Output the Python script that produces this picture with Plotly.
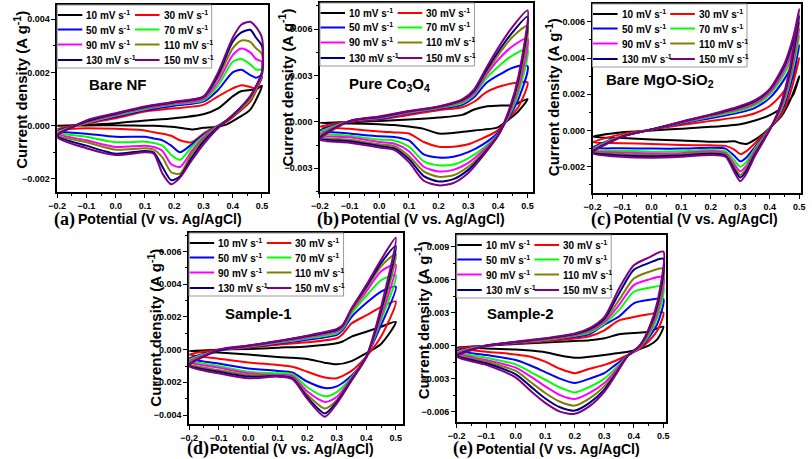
import plotly.graph_objects as go

W, H = 812, 459

RATES = ["10", "30", "50", "70", "90", "110", "130", "150"]
COLORS = ["#000000", "#ff0000", "#0000ff", "#00ff00", "#ff00ff", "#808000", "#000080", "#800080"]

# Current densities are listed in units of 1e-3 A g^-1 (converted to A g^-1 when plotted)
# ---- (a) Bare NF ----
a_up_x = [-0.2, -0.1, 0.0, 0.1, 0.2, 0.3, 0.35, 0.4, 0.43, 0.46, 0.48, 0.5]
a_up = [
    [0.0, 0.03, 0.09, 0.19, 0.28, 0.43, 0.65, 1.1, 1.3, 1.34, 1.36, 1.5],
    [-0.12, 0.08, 0.28, 0.53, 0.65, 0.78, 1.1, 1.4, 1.52, 1.45, 1.4, 1.8],
    [-0.2, 0.1, 0.33, 0.58, 0.75, 0.9, 1.34, 2.0, 2.1, 1.9, 1.8, 1.9],
    [-0.25, 0.1, 0.38, 0.62, 0.8, 0.95, 1.5, 2.4, 2.5, 2.3, 2.1, 2.1],
    [-0.3, 0.12, 0.4, 0.65, 0.83, 1.0, 1.65, 2.65, 2.9, 2.75, 2.5, 2.4],
    [-0.35, 0.14, 0.43, 0.68, 0.86, 1.05, 1.8, 2.9, 3.2, 3.15, 2.9, 2.7],
    [-0.38, 0.16, 0.45, 0.7, 0.88, 1.08, 1.9, 3.15, 3.5, 3.6, 3.3, 3.0],
    [-0.42, 0.2, 0.47, 0.72, 0.9, 1.1, 2.0, 3.3, 3.8, 3.9, 3.7, 3.3],
]
a_dn_x = [0.5, 0.46, 0.42, 0.38, 0.34, 0.3, 0.26, 0.22, 0.19, 0.16, 0.13, 0.1, 0.0, -0.1, -0.2]
a_dn = [
    [1.5, 0.6, 0.3, 0.05, -0.05, -0.08, -0.14, -0.08, -0.04, -0.02, 0.0, 0.0, 0.02, 0.01, 0.0],
    [1.8, 0.9, 0.5, 0.15, -0.05, -0.3, -0.62, -0.55, -0.38, -0.3, -0.25, -0.18, -0.12, -0.1, -0.12],
    [1.85, 1.0, 0.55, 0.2, -0.06, -0.35, -0.7, -1.0, -0.75, -0.55, -0.48, -0.42, -0.42, -0.3, -0.2],
    [1.9, 1.0, 0.55, 0.2, -0.08, -0.4, -0.8, -1.28, -1.1, -0.75, -0.65, -0.6, -0.62, -0.42, -0.25],
    [1.9, 1.05, 0.6, 0.2, -0.1, -0.45, -0.95, -1.55, -1.45, -0.95, -0.8, -0.75, -0.8, -0.55, -0.3],
    [1.95, 1.05, 0.6, 0.2, -0.12, -0.52, -1.05, -1.8, -1.75, -1.2, -0.9, -0.85, -0.9, -0.62, -0.35],
    [2.0, 1.1, 0.6, 0.2, -0.15, -0.6, -1.2, -1.9, -2.05, -1.55, -1.0, -0.95, -1.05, -0.75, -0.38],
    [2.0, 1.1, 0.6, 0.2, -0.2, -0.7, -1.3, -1.95, -2.2, -1.8, -1.05, -1.0, -1.1, -0.85, -0.42],
]

# ---- (b) Pure Co3O4 ----
b_up_x = [-0.2, -0.1, 0.0, 0.1, 0.2, 0.28, 0.32, 0.36, 0.4, 0.45, 0.5]
b_up = [
    [-0.06, 0.0, 0.06, 0.15, 0.28, 0.45, 0.8, 1.0, 1.05, 1.08, 1.47],
    [-0.3, 0.0, 0.15, 0.45, 0.75, 0.95, 1.3, 1.9, 2.25, 2.5, 2.55],
    [-0.55, 0.02, 0.2, 0.55, 0.85, 1.1, 1.6, 2.5, 3.0, 3.5, 3.6],
    [-0.7, 0.05, 0.25, 0.6, 0.9, 1.2, 1.75, 2.8, 3.55, 4.3, 4.7],
    [-0.85, 0.05, 0.27, 0.62, 0.92, 1.3, 1.85, 3.0, 4.0, 4.9, 5.4],
    [-0.95, 0.05, 0.3, 0.65, 0.95, 1.35, 1.95, 3.15, 4.3, 5.5, 6.2],
    [-1.05, 0.05, 0.32, 0.68, 0.98, 1.4, 2.0, 3.3, 4.5, 5.8, 6.8],
    [-1.15, 0.05, 0.35, 0.7, 1.0, 1.45, 2.1, 3.45, 4.75, 6.15, 7.2],
]
b_dn_x = [0.5, 0.47, 0.44, 0.4, 0.35, 0.3, 0.25, 0.2, 0.15, 0.1, 0.05, 0.0, -0.1, -0.2]
b_dn = [
    [1.47, 0.7, 0.2, -0.35, -0.5, -0.6, -0.72, -0.75, -0.45, -0.3, -0.2, -0.16, -0.1, -0.06],
    [2.55, 1.0, 0.3, -0.55, -1.05, -1.45, -1.6, -1.6, -1.3, -0.75, -0.68, -0.62, -0.45, -0.3],
    [3.6, 1.5, 0.4, -0.7, -1.45, -1.95, -2.25, -2.3, -2.1, -1.2, -0.97, -0.93, -0.75, -0.55],
    [4.7, 1.9, 0.5, -0.8, -1.7, -2.35, -2.75, -2.8, -2.55, -1.6, -1.2, -1.14, -0.9, -0.7],
    [5.4, 2.2, 0.6, -0.85, -1.85, -2.65, -3.1, -3.2, -2.9, -1.9, -1.4, -1.3, -1.0, -0.85],
    [6.2, 2.5, 0.7, -0.9, -2.0, -2.9, -3.45, -3.55, -3.2, -2.2, -1.55, -1.45, -1.15, -0.95],
    [6.8, 2.8, 0.8, -0.9, -2.1, -3.1, -3.7, -3.85, -3.5, -2.4, -1.7, -1.55, -1.25, -1.05],
    [7.2, 3.0, 0.9, -0.9, -2.2, -3.3, -3.95, -4.1, -3.8, -2.6, -1.8, -1.65, -1.35, -1.15],
]

# ---- (c) Bare MgO-SiO2 ----
c_up_x = [-0.2, -0.1, 0.0, 0.1, 0.2, 0.3, 0.35, 0.4, 0.45, 0.48, 0.5]
c_up = [
    [-0.35, -0.1, 0.0, 0.1, 0.2, 0.35, 0.55, 0.85, 1.35, 2.0, 3.0],
    [-0.65, -0.2, 0.05, 0.3, 0.53, 0.75, 0.95, 1.35, 2.2, 3.0, 4.0],
    [-0.95, -0.3, 0.05, 0.38, 0.68, 1.0, 1.25, 1.8, 2.85, 3.8, 4.7],
    [-1.05, -0.3, 0.05, 0.42, 0.75, 1.1, 1.38, 2.0, 3.15, 4.2, 5.2],
    [-1.1, -0.32, 0.05, 0.44, 0.8, 1.18, 1.48, 2.1, 3.35, 4.5, 5.6],
    [-1.15, -0.33, 0.05, 0.46, 0.83, 1.24, 1.55, 2.2, 3.5, 4.8, 5.95],
    [-1.2, -0.34, 0.05, 0.47, 0.86, 1.3, 1.62, 2.25, 3.6, 5.0, 6.3],
    [-1.25, -0.35, 0.05, 0.48, 0.88, 1.35, 1.67, 2.3, 3.7, 5.2, 6.7],
]
c_dn_x = [0.5, 0.47, 0.44, 0.41, 0.38, 0.35, 0.32, 0.3, 0.28, 0.25, 0.2, 0.1, 0.0, -0.1, -0.2]
c_dn = [
    [3.0, 1.7, 0.8, 0.3, -0.15, -0.5, -0.75, -0.7, -0.6, -0.62, -0.62, -0.55, -0.5, -0.42, -0.35],
    [4.0, 2.1, 0.9, 0.3, -0.2, -0.7, -1.15, -1.3, -1.05, -0.85, -0.82, -0.8, -0.75, -0.7, -0.65],
    [4.7, 2.5, 1.1, 0.35, -0.3, -0.9, -1.5, -1.7, -1.4, -1.0, -0.95, -1.0, -1.0, -0.98, -0.95],
    [5.2, 2.8, 1.2, 0.35, -0.35, -1.0, -1.75, -2.0, -1.65, -1.15, -1.07, -1.15, -1.17, -1.12, -1.05],
    [5.6, 3.0, 1.3, 0.35, -0.4, -1.1, -1.95, -2.25, -1.85, -1.25, -1.15, -1.25, -1.27, -1.22, -1.1],
    [5.95, 3.2, 1.4, 0.35, -0.45, -1.2, -2.1, -2.45, -2.0, -1.32, -1.22, -1.32, -1.35, -1.3, -1.15],
    [6.3, 3.4, 1.5, 0.35, -0.5, -1.3, -2.25, -2.6, -2.15, -1.38, -1.28, -1.38, -1.42, -1.38, -1.2],
    [6.7, 3.6, 1.6, 0.35, -0.55, -1.4, -2.4, -2.8, -2.3, -1.45, -1.35, -1.45, -1.5, -1.45, -1.25],
]

# ---- (d) Sample-1 ----
d_up_x = [-0.2, -0.1, 0.0, 0.1, 0.2, 0.3, 0.32, 0.35, 0.4, 0.45, 0.5]
d_up = [
    [-0.08, 0.0, 0.04, 0.12, 0.2, 0.39, 0.5, 0.8, 1.1, 1.4, 1.7],
    [-0.3, 0.0, 0.12, 0.3, 0.45, 0.7, 0.95, 1.6, 2.1, 2.6, 2.95],
    [-0.55, -0.05, 0.15, 0.37, 0.6, 0.9, 1.2, 2.0, 2.85, 3.55, 3.85],
    [-0.65, -0.05, 0.17, 0.42, 0.68, 1.0, 1.3, 2.2, 3.3, 4.25, 4.55],
    [-0.75, -0.05, 0.2, 0.46, 0.75, 1.1, 1.38, 2.35, 3.55, 4.8, 5.2],
    [-0.85, -0.05, 0.22, 0.49, 0.8, 1.18, 1.43, 2.4, 3.75, 5.1, 5.85],
    [-0.95, -0.05, 0.24, 0.51, 0.83, 1.22, 1.47, 2.5, 3.85, 5.3, 6.35],
    [-1.0, 0.0, 0.25, 0.53, 0.86, 1.27, 1.5, 2.5, 3.95, 5.5, 6.85],
]
d_dn_x = [0.5, 0.45, 0.4, 0.35, 0.3, 0.26, 0.2, 0.15, 0.1, 0.0, -0.1, -0.2]
d_dn = [
    [1.7, 0.35, -0.22, -0.7, -0.9, -0.8, -0.57, -0.5, -0.45, -0.3, -0.18, -0.08],
    [2.95, 0.8, -0.43, -1.3, -1.75, -1.7, -1.35, -1.05, -0.94, -0.78, -0.55, -0.3],
    [3.85, 1.5, -0.43, -1.6, -2.25, -2.35, -1.95, -1.4, -1.3, -1.15, -0.85, -0.55],
    [4.55, 1.8, -0.45, -1.7, -2.6, -2.85, -2.3, -1.5, -1.45, -1.35, -1.0, -0.65],
    [5.2, 2.0, -0.45, -1.75, -2.9, -3.2, -2.55, -1.6, -1.55, -1.45, -1.1, -0.75],
    [5.85, 2.2, -0.45, -1.8, -3.1, -3.6, -2.75, -1.7, -1.6, -1.55, -1.25, -0.85],
    [6.35, 2.4, -0.45, -1.85, -3.2, -3.9, -2.9, -1.75, -1.62, -1.65, -1.35, -0.95],
    [6.85, 2.6, -0.45, -1.9, -3.3, -4.1, -3.0, -1.8, -1.65, -1.75, -1.45, -1.0],
]

# ---- (e) Sample-2 ----
e_up_x = [-0.2, -0.1, 0.0, 0.1, 0.2, 0.25, 0.3, 0.35, 0.4, 0.45, 0.5]
e_up = [
    [-0.15, 0.0, 0.15, 0.28, 0.42, 0.5, 0.67, 1.03, 1.15, 1.27, 1.73],
    [-0.25, 0.0, 0.2, 0.4, 0.65, 0.85, 1.4, 2.3, 2.6, 2.85, 3.0],
    [-0.45, 0.0, 0.25, 0.48, 0.8, 1.05, 1.9, 2.65, 3.85, 4.15, 4.25],
    [-0.6, 0.0, 0.28, 0.52, 0.9, 1.2, 2.0, 3.25, 4.9, 5.25, 5.35],
    [-0.7, 0.0, 0.3, 0.56, 0.95, 1.3, 2.15, 3.7, 5.5, 6.0, 6.25],
    [-0.8, 0.0, 0.32, 0.6, 1.0, 1.4, 2.3, 4.15, 6.1, 6.7, 7.0],
    [-0.9, 0.0, 0.34, 0.64, 1.05, 1.5, 2.45, 4.75, 6.9, 7.5, 7.9],
    [-1.0, 0.0, 0.36, 0.67, 1.1, 1.6, 2.6, 5.2, 7.3, 8.0, 8.55],
]
e_dn_x = [0.5, 0.48, 0.45, 0.42, 0.38, 0.34, 0.3, 0.25, 0.2, 0.15, 0.1, 0.05, 0.0, -0.1, -0.2]
e_dn = [
    [1.73, 0.6, 0.0, -0.3, -0.55, -0.7, -0.85, -1.0, -1.1, -0.9, -0.6, -0.45, -0.35, -0.25, -0.15],
    [3.0, 1.4, 0.4, -0.3, -0.85, -1.35, -1.75, -2.1, -2.5, -2.1, -1.45, -1.0, -0.8, -0.55, -0.25],
    [4.25, 2.0, 0.7, -0.2, -0.9, -1.7, -2.5, -3.0, -3.4, -3.0, -2.4, -1.8, -1.3, -0.85, -0.45],
    [5.35, 2.6, 0.9, -0.15, -0.9, -2.0, -3.0, -3.75, -4.25, -3.8, -3.1, -2.4, -1.7, -1.1, -0.6],
    [6.25, 3.0, 1.1, -0.1, -0.9, -2.2, -3.4, -4.3, -4.85, -4.5, -3.7, -2.8, -2.0, -1.3, -0.7],
    [7.0, 3.3, 1.2, -0.05, -0.9, -2.4, -3.7, -4.8, -5.45, -5.1, -4.3, -3.3, -2.3, -1.45, -0.8],
    [7.9, 3.7, 1.4, 0.0, -0.9, -2.5, -4.0, -5.2, -5.9, -5.6, -4.8, -3.7, -2.6, -1.6, -0.9],
    [8.55, 4.0, 1.5, 0.0, -0.9, -2.6, -4.2, -5.5, -6.2, -6.0, -5.2, -4.1, -2.9, -1.75, -1.0],
]

PANEL_LETTERS = ["a", "b", "c", "d", "e"]
PANEL_NAMES = ["Bare NF", "Pure Co<sub>3</sub>O<sub>4</sub>", "Bare MgO-SiO<sub>2</sub>", "Sample-1", "Sample-2"]
X_TITLE = "Potential (V vs. Ag/AgCl)"
Y_TITLE = "Current density (A g<sup>-1</sup>)"

SANS = "Liberation Sans, Arial, sans-serif"
SERIF = "Liberation Serif, Times New Roman, serif"


def fx(px):
    return px / W


def fy(py):
    return 1 - py / H


# layout geometry (pixels)
panels = [
    dict(box=(49, 5, 263, 192), xr=[-0.2, 0.52], yr=[-0.00249, 0.00453], dy=0.002,
         ux=a_up_x, u=a_up, dx=a_dn_x, d=a_dn, lab=(111, 84), yt=(12, 90), xt=(45, 69, 219)),
    dict(box=(316, 3, 533, 192), xr=[-0.2, 0.52], yr=[-0.00453, 0.00768], dy=0.003,
         ux=b_up_x, u=b_up, dx=b_dn_x, d=b_dn, lab=(387, 85), yt=(281, 88), xt=(312, 336, 219)),
    dict(box=(593, 4, 805, 193), xr=[-0.2, 0.506], yr=[-0.00345, 0.00698], dy=0.002,
         ux=c_up_x, u=c_up, dx=c_dn_x, d=c_dn, lab=(662, 80), yt=(552, 97), xt=(590, 614, 219)),
    dict(box=(183, 233, 400, 424), xr=[-0.2, 0.523], yr=[-0.00455, 0.00714], dy=0.002,
         ux=d_up_x, u=d_up, dx=d_dn_x, d=d_dn, lab=(254, 313), yt=(147, 328), xt=(180, 203, 448.5)),
    dict(box=(455, 235, 668, 422), xr=[-0.2, 0.51], yr=[-0.00694, 0.01006], dy=0.003,
         ux=e_up_x, u=e_up, dx=e_dn_x, d=e_dn, lab=(520, 313), yt=(419, 320), xt=(450, 474, 448.5)),
]

fig = go.Figure()
shapes = []
annotations = []
layout_axes = {}

for i, p in enumerate(panels):
    n = i + 1
    xa = "x" if n == 1 else f"x{n}"
    ya = "y" if n == 1 else f"y{n}"
    L, T, R, B = p["box"]
    for j in range(len(RATES)):
        xs = list(p["ux"]) + list(p["dx"])
        ys = [v * 1e-3 for v in p["u"][j]] + [v * 1e-3 for v in p["d"][j]]
        # drop exact duplicate consecutive points (shared vertex)
        cx, cy = [xs[0]], [ys[0]]
        for xv, yv in zip(xs[1:], ys[1:]):
            if xv == cx[-1] and yv == cy[-1]:
                continue
            cx.append(xv)
            cy.append(yv)
        fig.add_trace(go.Scatter(
            x=cx, y=cy, mode="lines", xaxis=xa, yaxis=ya,
            name=f"{RATES[j]} mV s<sup>-1</sup>", showlegend=False,
            line=dict(color=COLORS[j], width=2, shape="spline", smoothing=0.7),
        ))
    axcommon = dict(showline=True, linecolor="black", linewidth=1.5, mirror=True,
                    ticks="outside", ticklen=4, tickwidth=1, tickcolor="black",
                    showgrid=False, zeroline=False,
                    tickfont=dict(family=SANS, size=9, color="black", weight="bold"))
    layout_axes["xaxis" if n == 1 else f"xaxis{n}"] = dict(
        axcommon, domain=[fx(L), fx(R)], anchor=ya, range=p["xr"], tick0=-0.2, dtick=0.1,
        tickformat=".1f", minor=dict(dtick=0.05, ticks="outside", ticklen=2, tickcolor="black"))
    layout_axes["yaxis" if n == 1 else f"yaxis{n}"] = dict(
        axcommon, domain=[fy(B), fy(T)], anchor=xa, range=p["yr"], tick0=0, dtick=p["dy"],
        tickformat=".3f", minor=dict(dtick=p["dy"] / 2, ticks="outside", ticklen=2, tickcolor="black"))

    # y title
    annotations.append(dict(text=Y_TITLE, x=fx(p["yt"][0]), y=fy(p["yt"][1]), xref="paper", yref="paper",
                            textangle=-90, showarrow=False, xanchor="center", yanchor="middle",
                            font=dict(family=SANS, size=15, color="black", weight="bold")))
    # x title with panel letter
    annotations.append(dict(text=f"({PANEL_LETTERS[i]})", x=fx(p["xt"][0]), y=fy(p["xt"][2]), xref="paper",
                            yref="paper", showarrow=False, xanchor="left", yanchor="middle", borderpad=0,
                            font=dict(family=SERIF, size=18, color="black", weight="bold")))
    annotations.append(dict(text=X_TITLE, x=fx(p["xt"][1]), y=fy(p["xt"][2]), xref="paper",
                            yref="paper", showarrow=False, xanchor="left", yanchor="middle", borderpad=0,
                            font=dict(family=SANS, size=14, color="black", weight="bold")))
    # sample label
    annotations.append(dict(text=PANEL_NAMES[i], x=fx(p["lab"][0]), y=fy(p["lab"][1]), xref="paper",
                            yref="paper", showarrow=False, xanchor="center", yanchor="middle",
                            font=dict(family=SANS, size=15, color="black", weight="bold")))
    # legend block (two columns)
    rows = [10, 24.5, 39.5, 55]
    for j in range(len(RATES)):
        r, c = divmod(j, 2)
        x0 = L + (0.5 if c == 0 else 79)
        x1 = x0 + 25
        yy = T + rows[r]
        shapes.append(dict(type="line", xref="paper", yref="paper", x0=fx(x0), x1=fx(x1),
                           y0=fy(yy), y1=fy(yy), line=dict(color=COLORS[j], width=2)))
        annotations.append(dict(text=f"{RATES[j]} mV s<sup>-1</sup>", x=fx(x1 + 2), y=fy(yy),
                                xref="paper", yref="paper", showarrow=False, xanchor="left",
                                yanchor="middle",
                                font=dict(family=SANS, size=10, color="black", weight="bold")))
    shapes.append(dict(type="rect", xref="paper", yref="paper", x0=fx(L), x1=fx(L + 157),
                       y0=fy(T + 63), y1=fy(T), line=dict(color="#9a9a9a", width=1)))

fig.update_layout(
    width=W, height=H, margin=dict(l=0, r=0, t=0, b=0),
    paper_bgcolor="white", plot_bgcolor="white",
    showlegend=False, shapes=shapes, annotations=annotations, **layout_axes,
)

fig.write_html("out.html", config={"displayModeBar": False},
               post_script="document.body.style.margin='0px';")
